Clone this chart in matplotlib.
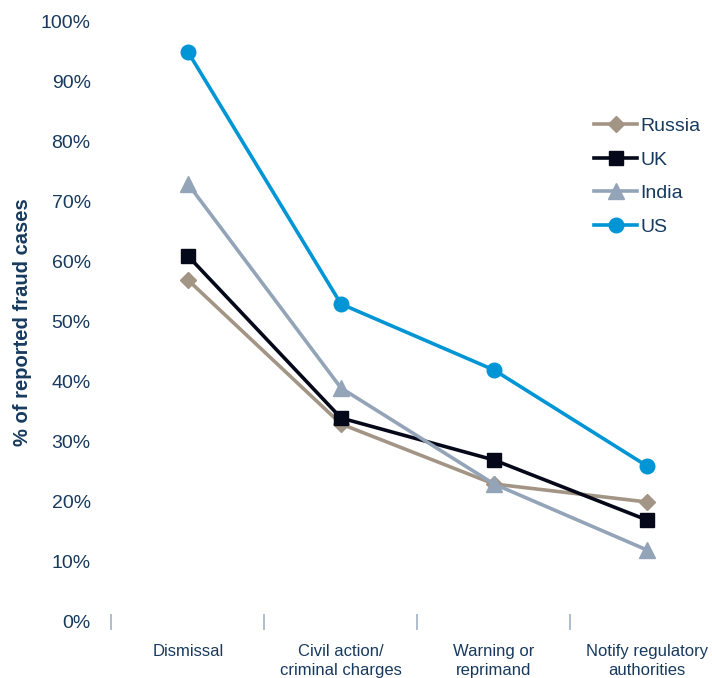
import numpy as np
from matplotlib import pyplot as plt

plt.rcParams['font.family'] = ['Liberation Sans', 'DejaVu Sans']

categories = ['Dismissal', 'Civil action/\ncriminal charges', 'Warning or\nreprimand',
              'Notify regulatory\nauthorities']
russia = [57, 33, 23, 20]
uk = [61, 34, 27, 17]
india = [73, 39, 23, 12]
us = [95, 53, 42, 26]

txt = '#173a5e'
x = np.arange(len(categories))

fig = plt.figure(figsize=(7.12, 6.78), dpi=100)
ax = fig.add_axes([0.1566, 0.0826, 1 - 0.1566, 0.885])

ax.plot(x, russia, color='#a39585', lw=2.6, marker='D', ms=8, label='Russia')
ax.plot(x, uk, color='#050818', lw=2.6, marker='s', ms=10.5, label='UK')
ax.plot(x, india, color='#94a4b8', lw=2.6, marker='^', ms=11.5, label='India')
ax.plot(x, us, color='#0095d5', lw=2.6, marker='o', ms=10.5, label='US')

ax.set_xlim(-0.5, 3.425)
ax.set_ylim(0, 100)
ax.set_yticks(np.arange(0, 101, 10))
ax.set_yticklabels([f'{v}%' for v in range(0, 101, 10)], fontsize=14, color=txt)
ax.tick_params(axis='y', length=0, pad=15)

ax.set_xticks(x)
ax.set_xticklabels(categories, fontsize=12, color=txt, linespacing=1.32)
ax.tick_params(axis='x', which='major', length=0, pad=16)
ax.set_xticks(np.arange(-0.5, 3.0, 1), minor=True)
ax.tick_params(axis='x', which='minor', direction='inout', length=11, width=1.3,
               color='#a9b8c8')

for s in ax.spines.values():
    s.set_visible(False)

ax.set_ylabel('% of reported fraud cases', fontsize=14.5, fontweight='bold', color=txt)
ax.yaxis.set_label_coords(-0.133, 0.5)

leg = ax.legend(loc='upper left', bbox_to_anchor=(0.775, 0.87), frameon=False,
                fontsize=14, handlelength=2.2, handletextpad=0.15, labelspacing=0.82)
for t in leg.get_texts():
    t.set_color(txt)

fig.savefig('out.png', dpi=100)
